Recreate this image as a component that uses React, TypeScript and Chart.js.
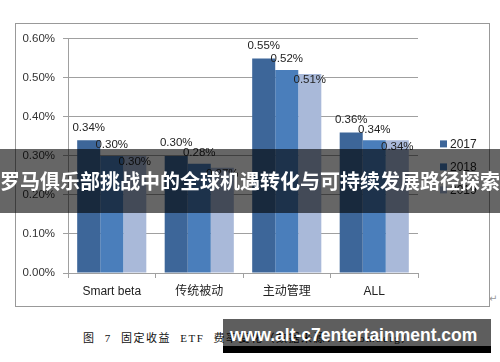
import React, { useEffect, useRef } from "react";
import { Chart, registerables } from "chart.js";

Chart.register(...registerables);

const categories = ["Smart beta", "传统被动", "主动管理", "ALL"];
const seriesLabels = ["2017", "2018", "2019"];
const values2017 = [0.34, 0.3, 0.55, 0.36];
const values2018 = [0.3, 0.28, 0.52, 0.34];
const values2019 = [0.3, 0.27, 0.51, 0.34];
const yTicks = [0, 0.1, 0.2, 0.3, 0.4, 0.5, 0.6];

const colors = ["#3D6699", "#4A7EBB", "#A9B9D9"];
const labelOffsets = [-13, -11, 6];
const FONT = "'Liberation Sans', 'Noto Sans CJK SC', sans-serif";
const GRID = "#a0a0a0";

const valueLabelPlugin = {
  id: "valueLabels",
  afterDatasetsDraw(chart: any) {
    const ctx = chart.ctx;
    ctx.save();
    ctx.font = `11.5px ${FONT}`;
    ctx.fillStyle = "#222";
    ctx.textAlign = "center";
    ctx.textBaseline = "middle";
    chart.data.datasets.forEach((ds: any, i: number) => {
      const meta = chart.getDatasetMeta(i);
      meta.data.forEach((el: any, j: number) => {
        const v = ds.data[j] as number;
        ctx.fillText(v.toFixed(2) + "%", el.x, el.y + labelOffsets[i]);
      });
    });
    ctx.restore();
  },
};

const legendPlugin = {
  id: "sideLegend",
  afterDraw(chart: any) {
    const ctx = chart.ctx;
    const area = chart.chartArea;
    ctx.save();
    ctx.font = `12px ${FONT}`;
    ctx.textAlign = "left";
    ctx.textBaseline = "middle";
    chart.data.datasets.forEach((ds: any, i: number) => {
      const x = area.right + 22;
      const y = area.top + 105 + i * 23;
      ctx.fillStyle = ds.backgroundColor;
      ctx.fillRect(x, y - 3.5, 7, 7);
      ctx.fillStyle = "#222";
      ctx.fillText(ds.label, x + 10, y + 0.5);
    });
    ctx.restore();
  },
};

function BarChart() {
  const ref = useRef<HTMLCanvasElement | null>(null);
  useEffect(() => {
    if (!ref.current) return;
    const chart = new Chart(ref.current, {
      type: "bar",
      data: {
        labels: categories,
        datasets: [values2017, values2018, values2019].map((d, i) => ({
          label: seriesLabels[i],
          data: d,
          backgroundColor: colors[i],
          borderWidth: 0,
          categoryPercentage: 0.79,
          barPercentage: 1,
        })),
      },
      options: {
        animation: false,
        responsive: false,
        maintainAspectRatio: false,
        devicePixelRatio: 1,
        layout: { padding: { top: 13, right: 71, left: 0, bottom: 0 } },
        plugins: {
          legend: { display: false },
          tooltip: { enabled: false },
        },
        scales: {
          x: {
            grid: {
              drawOnChartArea: false,
              drawTicks: true,
              tickLength: 5,
              color: GRID,
              offset: true,
            },
            border: { color: GRID },
            ticks: {
              color: "#222",
              font: { size: 12, family: FONT },
              padding: 6,
              maxRotation: 0,
            },
            afterFit(scale: any) {
              scale.height = 33;
            },
          },
          y: {
            min: 0,
            max: 0.6,
            afterBuildTicks(scale: any) {
              scale.ticks = yTicks.map((v) => ({ value: v }));
            },
            grid: { color: GRID, tickLength: 5 },
            border: { color: GRID },
            ticks: {
              color: "#333",
              font: { size: 11.5, family: FONT },
              padding: 8,
              callback: (v: any) => Number(v).toFixed(2) + "%",
            },
            afterFit(scale: any) {
              scale.width = 52;
            },
          },
        },
      },
      plugins: [valueLabelPlugin, legendPlugin],
    } as any);
    return () => chart.destroy();
  }, []);
  return <canvas ref={ref} width={473} height={282} style={{ width: 473, height: 282, display: "block" }} />;
}

export default function App() {
  return (
    <div
      style={{
        position: "absolute",
        left: 0,
        top: 0,
        width: 500,
        height: 362,
        background: "#fff",
        overflow: "hidden",
      }}
    >
      <div
        style={{
          position: "absolute",
          left: 15,
          top: 23,
          width: 475,
          height: 284,
          boxSizing: "border-box",
          border: "1px solid #999",
        }}
      >
        <BarChart />
      </div>
      <div
        style={{
          position: "absolute",
          left: 489,
          top: 293,
          fontSize: 10,
          color: "#999",
          fontFamily: "'DejaVu Sans', sans-serif",
        }}
      >
        ↵
      </div>
      <div
        style={{
          position: "absolute",
          left: 83,
          top: 330,
          fontSize: 11,
          lineHeight: "16px",
          letterSpacing: 1.5,
          wordSpacing: 5,
          color: "#111",
          whiteSpace: "nowrap",
          fontFamily: "'Liberation Serif', 'Noto Sans CJK SC', serif",
        }}
      >
        图 7 固定收益 ETF 费率变化（数据来源：Bloomberg）
      </div>
      <div
        style={{
          position: "absolute",
          left: 0,
          top: 149,
          width: 500,
          height: 64,
          background: "rgba(0,0,0,0.6)",
          color: "#fff",
          fontFamily: "'Noto Sans CJK SC', sans-serif",
          fontWeight: 700,
          fontSize: 20,
          lineHeight: "64px",
          textAlign: "center",
          whiteSpace: "nowrap",
        }}
      >
        罗马俱乐部挑战中的全球机遇转化与可持续发展路径探索
      </div>
      <div
        style={{
          position: "absolute",
          left: 223,
          top: 319,
          width: 268,
          height: 27,
          background: "rgba(0,0,0,0.63)",
        }}
      />
      <div
        style={{
          position: "absolute",
          left: 223,
          top: 346,
          width: 268,
          height: 7,
          background: "#000",
        }}
      />
      <div
        style={{
          position: "absolute",
          left: 230,
          top: 322,
          lineHeight: "27px",
          fontSize: 17.5,
          fontWeight: 700,
          color: "#fff",
          whiteSpace: "nowrap",
          fontFamily: "'Liberation Sans', sans-serif",
        }}
      >
        www.alt-c7entertainment.com
      </div>
    </div>
  );
}
